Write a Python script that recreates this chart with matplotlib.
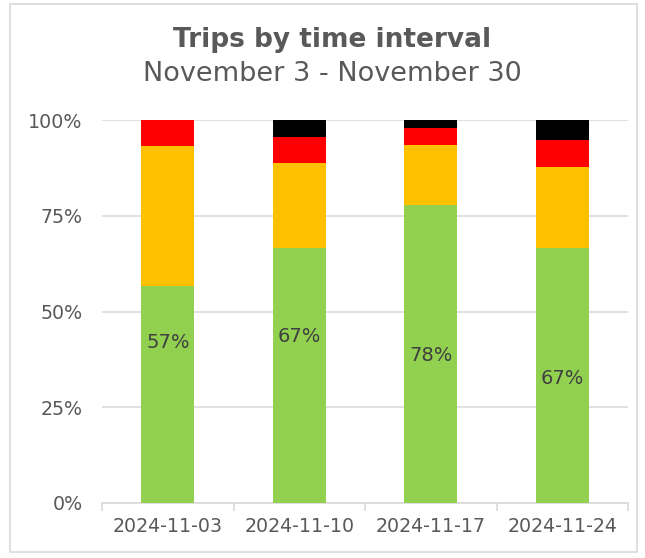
import matplotlib.pyplot as plt
from matplotlib.patches import Rectangle
import numpy as np

weeks = ['2024-11-03', '2024-11-10', '2024-11-17', '2024-11-24']
# share of trips per time interval, in percent
green = [56.7, 66.7, 77.8, 66.7]
orange = [36.6, 22.2, 15.6, 21.1]
red = [6.7, 6.7, 4.4, 7.0]
black = [0.0, 4.4, 2.2, 5.2]
green_labels = ['57%', '67%', '78%', '67%']
label_y = [42, 43.6, 38.4, 32.6]

text_col = '#595959'
plt.rcParams['font.family'] = 'DejaVu Sans'

fig = plt.figure(figsize=(6.45, 5.58), dpi=100)
fig.patches.append(Rectangle((10 / 645, 6 / 558), 627 / 645, 548 / 558,
                             transform=fig.transFigure, fill=False,
                             edgecolor='#D9D9D9', linewidth=1.2))
ax = fig.add_axes([102 / 645, 1 - 503 / 558, 526 / 645, 383 / 558])

x = np.arange(len(weeks))
bottom = np.zeros(len(weeks))
for vals, col in [(green, '#92D050'), (orange, '#FFC000'), (red, '#FF0000'), (black, '#000000')]:
    ax.bar(x, vals, bottom=bottom, width=0.4, color=col, zorder=3)
    bottom += np.array(vals)

for i, lab in enumerate(green_labels):
    ax.text(x[i], label_y[i], lab, ha='center', va='center', fontsize=14, color='#404040', zorder=4)

ax.set_xlim(-0.5, 3.5)
ax.set_ylim(0, 100)
ax.set_yticks([0, 25, 50, 75, 100])
ax.set_yticklabels(['0%', '25%', '50%', '75%', '100%'])
ax.set_xticks(x)
ax.set_xticklabels(weeks)
ax.set_xticks(np.arange(-0.5, 4, 1), minor=True)
ax.tick_params(axis='x', which='major', length=0, pad=10, labelsize=13.7, labelcolor=text_col)
ax.tick_params(axis='x', which='minor', length=6, color='#D9D9D9', width=1.2)
ax.tick_params(axis='y', length=0, pad=14, labelsize=13.7, labelcolor=text_col)
ax.grid(axis='y', color='#D9D9D9', linewidth=1.1, zorder=0)
for s in ['top', 'right', 'left']:
    ax.spines[s].set_visible(False)
ax.spines['bottom'].set_color('#D9D9D9')
ax.spines['bottom'].set_linewidth(1.2)

fig.text(0.515, 1 - 40 / 558, 'Trips by time interval', ha='center', va='center',
         fontsize=19, fontweight='bold', color=text_col)
fig.text(0.515, 1 - 74 / 558, 'November 3 - November 30', ha='center', va='center',
         fontsize=19.5, color=text_col)

fig.savefig('out.png', dpi=100)
